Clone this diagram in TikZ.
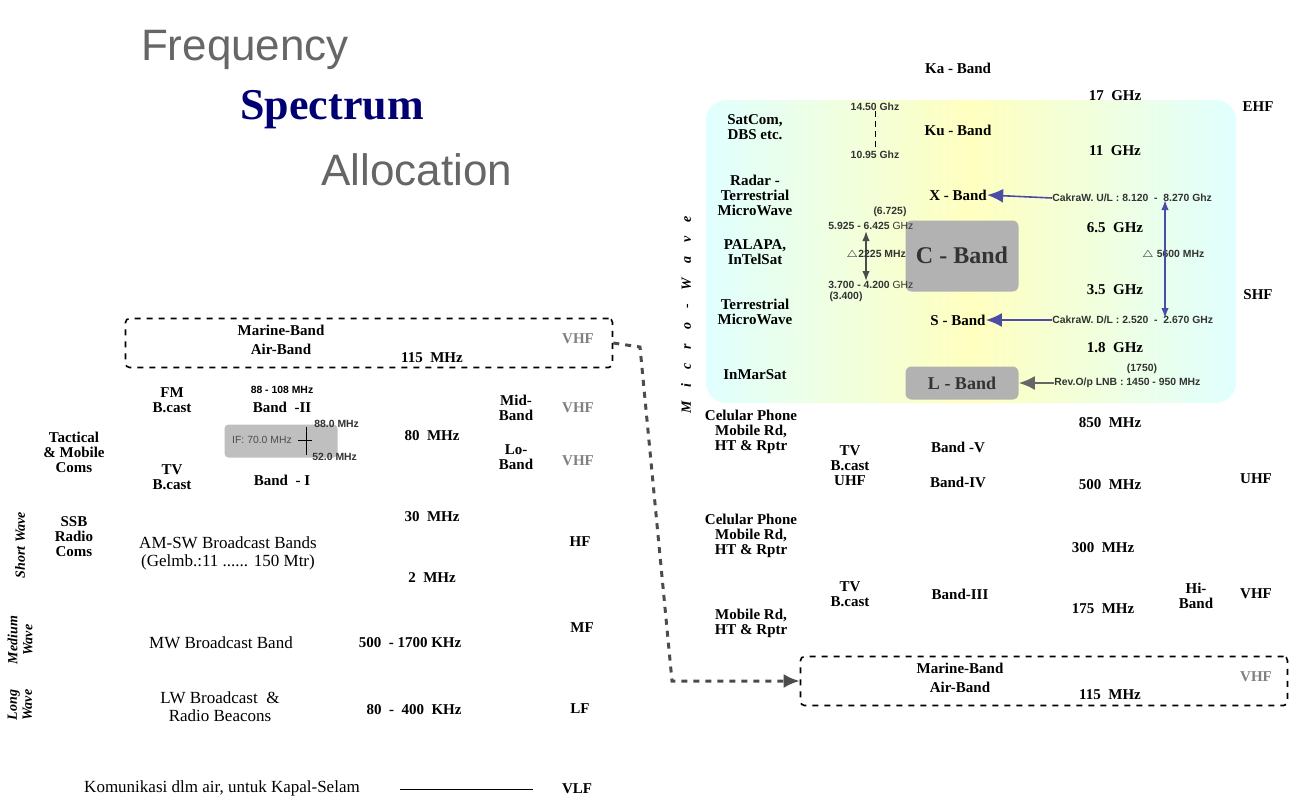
\documentclass[tikz,border=0pt]{standalone}
\usepackage{fontspec}
\setmainfont{Liberation Serif}
\newfontfamily\sansf{Liberation Sans}
\usetikzlibrary{arrows.meta}
\begin{document}
\begin{tikzpicture}[x=0.5pt,y=-0.5pt,
 lab/.style={font=\fontsize{7.5}{7.5}\selectfont\bfseries,align=center,inner sep=0},
 labn/.style={font=\fontsize{7.5}{7.5}\selectfont,align=center,inner sep=0},
 band/.style={font=\fontsize{7.5}{7.5}\selectfont\bfseries,inner sep=0},
 freq/.style={font=\fontsize{7.5}{7.5}\selectfont\bfseries,inner sep=0},
 tiny/.style={font=\sansf\fontsize{5.2}{5.2}\selectfont\bfseries,inner sep=0,text=black!80},
 vhf/.style={font=\fontsize{7.5}{7.5}\selectfont\bfseries,text=gray,inner sep=0},
 dbox/.style={draw,dashed,rounded corners=2pt,thick},
 vert/.style={font=\fontsize{7}{7.5}\selectfont\bfseries\itshape,rotate=90,align=center,inner sep=0},
 sarrow/.style={-{Latex[length=8pt,width=7pt]},draw=black!50!blue!70,thick}]
\useasboundingbox (0,0) rectangle (1290,803);
% title
\node (t1) at (245,50) {\sansf\fontsize{22}{22}\selectfont\color{black!60}Frequency};
\node (t2) at (332,110) {\fontsize{22}{22}\selectfont\bfseries\color{blue!45!black}Spectrum};
\node (t3) at (417,170) {\sansf\fontsize{22}{22}\selectfont\color{black!60}Allocation};
% microwave box
\shade[rounded corners=10pt,left color=cyan!12,right color=cyan!12,middle color=yellow!25] (706,100) rectangle (1236,403);
\node[fill=black!30,rounded corners=3pt,minimum width=113*0.5pt,minimum height=71*0.5pt] (cbox) at (962,256) {};
\node[fill=black!30,rounded corners=3pt,minimum width=113*0.5pt,minimum height=33*0.5pt] (lbox) at (962,383) {};
% microwave labels
\node[lab] (ka) at (958,68) {Ka - Band};
\node[freq] (f17) at (1115,96) {17\ \ GHz};
\node[vhf,text=black] (ehf) at (1258,107) {EHF};
\node[lab] (sat) at (755,127) {SatCom,\\DBS etc.};
\node[tiny] (k1) at (875,107) {14.50 Ghz};
\node[tiny] (k2) at (875,155) {10.95 Ghz};
\draw[densely dashed] (k1) -- (k2);
\node[band] (ku) at (958,130) {Ku\ - Band};
\node[freq] (f11) at (1115,151) {11\ \ GHz};
\node[lab] (radar) at (755,195) {Radar -\\Terrestrial\\MicroWave};
\node[band] (xb) at (958,195) {X - Band};
\node[tiny,anchor=west] (cu) at (1052,198) {CakraW. U/L : 8.120\ \ -\ \ 8.270 Ghz};
\draw[sarrow] (cu.west) -- (xb.east);
\node[tiny] (c6725) at (890,212) {(6.725)};
\node[tiny,anchor=west] (c59) at (828,226) {5.925 - 6.425 {\mdseries GHz}};
\node[freq] (f65) at (1115,228) {6.5\ \ GHz};
\node[lab] (pal) at (755,252) {PALAPA,\\InTelSat};
\node[font=\fontsize{12}{12}\selectfont\bfseries,text=black!80] (cb) at (962,255) {C - Band};
\node[tiny,anchor=west] (c37) at (828,285) {3.700 - 4.200 {\mdseries GHz}};
\node[tiny] (c34) at (846,297) {(3.400)};
\draw[{Latex[length=5pt]}-{Latex[length=5pt]},black!70,thick] (866,231) -- (866,281);
\node[tiny] (d2225) at (876,255) {$\triangle$2225 MHz};
\node[tiny] (d5600) at (1173,255) {$\triangle$ 5600 MHz};
\draw[{Latex[length=5pt]}-{Latex[length=5pt]},black!50!blue!70,thick] (1165,200) -- (1165,318);
\node[freq] (f35) at (1115,290) {3.5\ \ GHz};
\node[vhf,text=black] (shf) at (1258,295) {SHF};
\node[lab] (terr) at (755,312) {Terrestrial\\MicroWave};
\node[band] (sb) at (958,320) {S - Band};
\node[tiny,anchor=west] (cd) at (1052,320) {CakraW. D/L : 2.520\ \ -\ \ 2.670 GHz};
\draw[sarrow] (cd.west) -- (sb.east);
\node[freq] (f18) at (1115,348) {1.8\ \ GHz};
\node[tiny] (c1750) at (1142,369) {(1750)};
\node[lab] (inm) at (755,375) {InMarSat};
\node[font=\fontsize{9}{9}\selectfont\bfseries,text=black!80] (lb) at (962,383) {L - Band};
\node[tiny,anchor=west] (rev) at (1054,383) {Rev.O/p LNB : 1450 - 950 MHz};
\draw[sarrow,black!60] (rev.west) -- (lbox.east);
\node[vert] (mw) at (686,315) {M\ \ \ \ i\ \ \ \ c\ \ \ \ r\ \ \ \ o\ \ \ \ -\ \ \ \ W\ \ \ \ a\ \ \ \ v\ \ \ \ e};
% UHF/VHF right side
\node[lab] (cel1) at (751,432) {Celular Phone\\Mobile Rd,\\HT \& Rptr};
\node[lab] (tvu) at (850,466) {TV\\B.cast\\UHF};
\node[band] (b5) at (958,447) {Band\ -V};
\node[band] (b4) at (958,482) {Band-IV};
\node[freq] (f850) at (1110,423) {850\ \ MHz};
\node[freq] (f500) at (1110,485) {500\ \ MHz};
\node[vhf,text=black] (uhf) at (1256,479) {UHF};
\node[lab] (cel2) at (751,536) {Celular Phone\\Mobile Rd,\\HT \& Rptr};
\node[freq] (f300) at (1103,548) {300\ \ MHz};
\node[lab] (tv3) at (850,594) {TV\\B.cast};
\node[band] (b3) at (960,594) {Band-III};
\node[freq] (f175) at (1103,609) {175\ \ MHz};
\node[lab] (hib) at (1196,596) {Hi-\\Band};
\node[vhf,text=black] (vhf4) at (1256,594) {VHF};
\node[lab] (mob) at (751,623) {Mobile Rd,\\HT \& Rptr};
\node[dbox,minimum width=487*0.5pt,minimum height=49*0.5pt] (mb2) at (1044,681) {};
\node[lab] (mar2) at (960,678) {Marine-Band\\[2pt]Air-Band};
\node[freq] (f115b) at (1110,695) {115\ \ MHz};
\node[vhf] (vhf5) at (1256,677) {VHF};
% left side
\node[dbox,minimum width=487*0.5pt,minimum height=49*0.5pt] (mb1) at (369,343) {};
\node[lab] (mar1) at (281,340) {Marine-Band\\[2pt]Air-Band};
\node[freq] (f115a) at (432,358) {115\ \ MHz};
\node[vhf] (vhf1) at (578,339) {VHF};
\coordinate (d1) at (640,347);
\coordinate (d2) at (672,681);
\draw[dashed,line width=1.5pt,black!70,-{Latex[length=8pt,width=7pt]}] (mb1.east) -- (d1) -- (d2) -- (mb2.west);
\node[lab] (fm) at (172,400) {FM\\B.cast};
\node[tiny,text=black] (f88) at (282,390) {88 - 108 MHz};
\node[band] (b2) at (282,407) {Band\ \ -II};
\node[fill=black!25,rounded corners=2pt,minimum width=113*0.5pt,minimum height=33*0.5pt] (ifbox) at (281,441) {};
\node[font=\sansf\fontsize{5.2}{5.2}\selectfont,text=black!70,inner sep=0] (if) at (262,440) {IF: 70.0 MHz};
\draw (298,440) -- (312,440);
\draw (306,427) -- (306,455);
\node[tiny,anchor=west] (m88) at (314,424) {88.0 MHz};
\node[tiny,anchor=west] (m52) at (312,457) {52.0 MHz};
\node[lab] (tact) at (74,452) {Tactical\\\& Mobile\\Coms};
\node[freq] (f80) at (432,436) {80\ \ MHz};
\node[lab] (mid) at (516,408) {Mid-\\Band};
\node[lab] (lo) at (516,457) {Lo-\\Band};
\node[vhf] (vhf2) at (578,408) {VHF};
\node[vhf] (vhf3) at (578,461) {VHF};
\node[lab] (tv1) at (172,477) {TV\\B.cast};
\node[band] (b1) at (282,480) {Band\ \ - I};
\node[freq] (f30) at (432,517) {30\ \ MHz};
\node[lab] (ssb) at (74,537) {SSB\\Radio\\Coms};
\node[labn,font=\fontsize{8.5}{9}\selectfont] (am) at (228,553) {AM-SW Broadcast Bands\\(Gelmb.:11 ...... 150 Mtr)};
\node[band] (hf) at (580,542) {HF};
\node[freq] (f2) at (432,578) {2\ \ MHz};
\node[vert] (sw) at (20,545) {Short Wave};
\node[vert] (mdw) at (20,640) {Medium\\Wave};
\node[band] (mf) at (582,628) {MF};
\node[labn,font=\fontsize{8.5}{9}\selectfont] (mwb) at (221,643) {MW Broadcast Band};
\node[freq] (f500k) at (410,643) {500 \ - 1700 KHz};
\node[vert] (lw) at (20,705) {Long\\Wave};
\node[labn,font=\fontsize{8.5}{9}\selectfont] (lwb) at (220,707) {LW Broadcast\ \ \&\\Radio Beacons};
\node[freq] (f80k) at (414,710) {80\ \ - \ 400\ \ KHz};
\node[band] (lf) at (580,709) {LF};
\node[labn,font=\fontsize{8.5}{9}\selectfont] (kom) at (222,788) {Komunikasi dlm air, untuk Kapal-Selam};
\coordinate (l1) at (400,789);
\coordinate (l2) at (533,789);
\draw (l1) -- (l2);
\node[band] (vlf) at (577,789) {VLF};
\end{tikzpicture}
\end{document}
